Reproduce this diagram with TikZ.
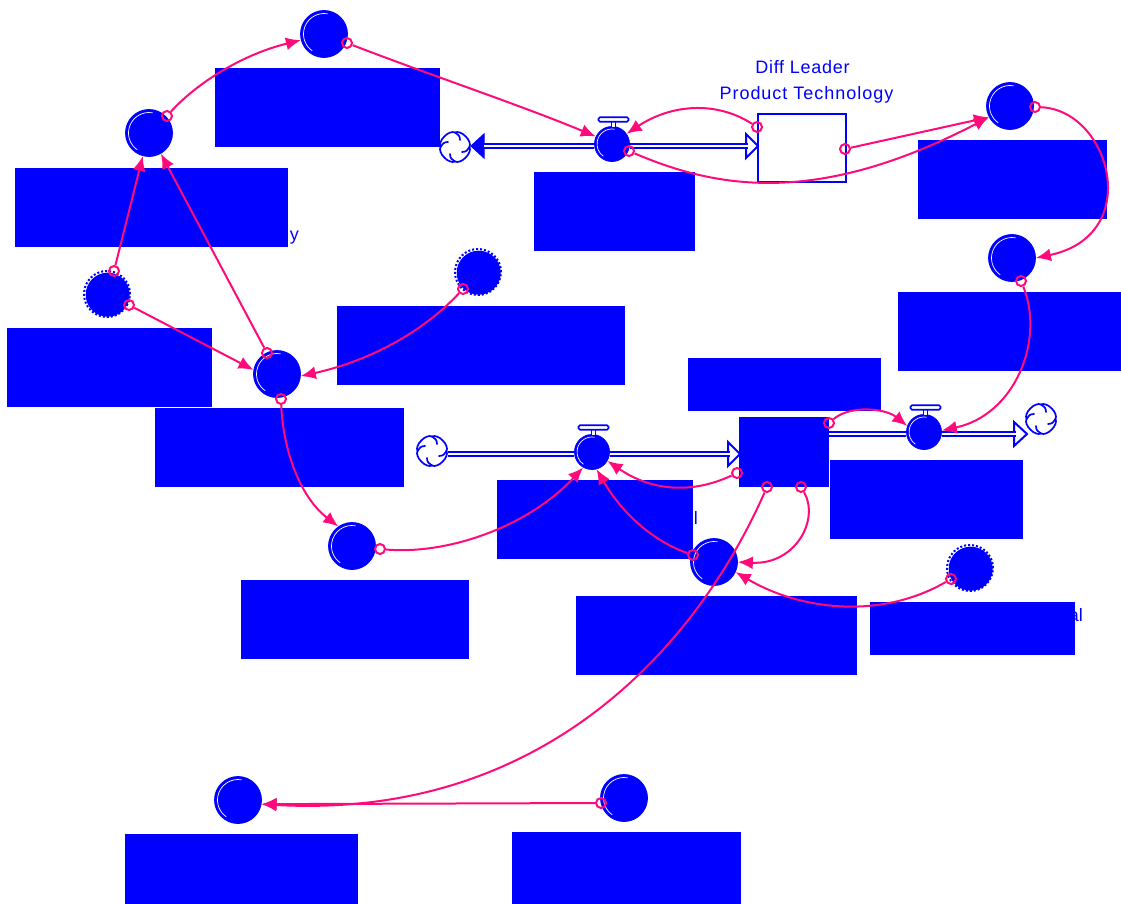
\documentclass[tikz,border=0pt]{standalone}
\usepackage{fontspec}
\setmainfont{Liberation Sans}
\usetikzlibrary{arrows.meta}
\definecolor{sdblue}{RGB}{0,0,255}
\definecolor{sdpink}{RGB}{255,10,120}
\tikzset{
  x=1pt,y=-1pt,
  hilite/.style={path picture={\draw[white,line width=.7pt] (path picture bounding box.center) ++(80:#1) arc[start angle=80,end angle=235,radius=#1];}},
  aux/.style={circle,fill=sdblue,draw=sdblue,line width=.8pt,inner sep=0pt,minimum size=47pt,hilite=20.5pt},
  ghost/.style={circle,fill=sdblue,inner sep=0pt,minimum size=44pt},
  ring/.style={circle,draw=sdblue,dotted,line width=2pt,inner sep=0pt,minimum size=46pt},
  valve/.style={circle,fill=sdblue,draw=sdblue,line width=.8pt,inner sep=0pt,minimum size=35pt,hilite=15pt},
  handle/.style={draw=sdblue,fill=white,line width=1.7pt,rounded corners=1.5pt,inner sep=0pt,minimum width=30pt,minimum height=4.5pt},
  stem/.style={draw=sdblue,fill=white,line width=1.5pt,inner sep=0pt,minimum width=4pt,minimum height=6pt},
  mask/.style={fill=sdblue,draw=none},
  stockopen/.style={draw=sdblue,fill=white,line width=2pt,inner sep=0pt,minimum width=88pt,minimum height=68pt},
  stockfull/.style={draw=sdblue,fill=sdblue,line width=1pt,inner sep=0pt,minimum width=89pt,minimum height=69pt},
  pipe/.style={draw=sdblue,line width=2pt,double=white,double distance=2.2pt},
  hollow/.style={draw=sdblue,fill=white,line width=2pt,line join=miter},
  solidtip/.style={draw=sdblue,fill=sdblue,line width=1pt},
  tail/.style={circle,draw=sdpink,line width=2pt,inner sep=0pt,minimum size=10pt},
  link/.style={draw=sdpink,line width=2pt,-{Latex[length=15pt,width=13pt]}},
  lab/.style={text=sdblue,font=\fontsize{18}{21}\selectfont,inner sep=0pt},
  cloudline/.style={draw=sdblue,line width=1.7pt,line cap=round},
  cloud/.pic={
    \foreach \r in {0,90,180,270}{
      \draw[cloudline,rotate=\r] (0,-14.5) .. controls (6,-17.5) and (17.5,-6) .. (14.5,0);
      \draw[cloudline,rotate=\r] (0,-14.5) .. controls (3,-13) and (5,-11) .. (5,-7);
    }
  }
}
\begin{document}
\begin{tikzpicture}
\useasboundingbox (0,0) rectangle (1121,904);

% text partly covered by the rectangles
\node[lab,anchor=base east] (ty) at (299,240) {y};
\node[lab,anchor=base east] (tl) at (698,524) {l};
\node[lab,anchor=base east] (tal) at (1083,621) {al};
\node[lab,anchor=base] (t1) at (802.5,74) {\addfontfeature{LetterSpace=4}Diff Leader};
\node[lab,anchor=base] (t2) at (806.5,100) {\addfontfeature{LetterSpace=5.5}Product Technology};

% stocks
\node[stockopen] (S1) at (802,148) {};
\node[stockfull] (S2) at (784,452) {};

% masks
\foreach \a/\b/\c/\d in {215/68/440/147,15/168/288/247,7/328/212/407,337/306/625/385,155/408/404/487,534/172/695/251,918/140/1107/219,898/292/1121/371,688/358/881/411,830/460/1023/539,497/480/693/559,241/580/469/659,576/596/857/675,870/602/1075/655,125/834/358/904,512/832/741/904}
  \fill[mask] (\a,\b) rectangle (\c,\d);

% clouds
\pic at (455,147) {cloud};
\pic at (432,451) {cloud};
\pic at (1041,419) {cloud};
\coordinate (C1) at (471,146);
\coordinate (C2) at (448,454);
\coordinate (E1) at (746,146);
\coordinate (E2) at (728,454);
\coordinate (E3) at (1014,434);

% valves
\node[valve] (V1) at (612,144) {};
\node[valve] (V2) at (592,452) {};
\node[valve] (V3) at (924,432) {};
\node[stem] (st1) at (613.5,124.5) {};
\node[stem] (st2) at (593.5,432.5) {};
\node[stem] (st3) at (925.5,412.5) {};
\node[handle] (h1) at (613.5,119.5) {};
\node[handle] (h2) at (593.5,427.5) {};
\node[handle] (h3) at (925.5,407.5) {};

% flow heads, then pipes running into them
\draw[hollow] (E1) ++(0,-12) -- ++(12,12) -- ++(-12,12) -- cycle;
\draw[hollow] (E2) ++(0,-12) -- ++(12,12) -- ++(-12,12) -- cycle;
\draw[hollow] (E3) ++(0,-12) -- ++(13,12) -- ++(-13,12) -- cycle;
\draw[solidtip] (C1) -- ++(13,-12) -- ++(0,24) -- cycle;
\draw[pipe] (V1.west |- C1) -- (484,146);
\draw[pipe] (V1.east |- E1) -- ([xshift=1.5pt]E1);
\draw[pipe] (C2) -- (V2.west |- C2);
\draw[pipe] (V2.east |- E2) -- ([xshift=1.5pt]E2);
\draw[pipe] (S2.east |- E3) -- (V3.west |- E3);
\draw[pipe] (V3.east |- E3) -- ([xshift=1.5pt]E3);

% auxiliaries
\node[aux] (A) at (324,34) {};
\node[aux] (B) at (149,133) {};
\node[aux] (D) at (277,374) {};
\node[aux] (G) at (1010,106) {};
\node[aux] (H) at (1012,258) {};
\node[aux] (K) at (352,546) {};
\node[aux] (L) at (714,562) {};
\node[aux] (N) at (238,800) {};
\node[aux] (O) at (624,798) {};
\node[ring] (Cr) at (107,294) {}; \node[ghost] (C) at (107.7,294.7) {};
\node[ring] (Er) at (478,272) {}; \node[ghost] (E) at (478.7,272.7) {};
\node[ring] (Mr) at (970,568) {}; \node[ghost] (M) at (970.7,568.7) {};

% connector tails
\node[tail] (a1) at (167,116) {};
\node[tail] (a2) at (347,43) {};
\node[tail] (a3) at (114,271) {};
\node[tail] (a4) at (267,353) {};
\node[tail] (a5) at (129,305) {};
\node[tail] (a6) at (463,289) {};
\node[tail] (a7) at (281,399) {};
\node[tail] (a8) at (380,549) {};
\node[tail] (a9) at (757,127) {};
\node[tail] (a10) at (629,151) {};
\node[tail] (a11) at (845,149) {};
\node[tail] (a12) at (1035,107) {};
\node[tail] (a13) at (1021,281) {};
\node[tail] (a14) at (829,423) {};
\node[tail] (a15) at (737,473) {};
\node[tail] (a16) at (693,555) {};
\node[tail] (a17) at (801,487) {};
\node[tail] (a18) at (951,579) {};
\node[tail] (a19) at (767,487) {};
\node[tail] (a20) at (601,803) {};

% connectors
\draw[link] (a1) .. controls (195,85) and (240,55) .. (A.195);
\draw[link] (a2) .. controls (430,75) and (520,105) .. (V1.155);
\draw[link] (a3) -- (B.255);
\draw[link] (a4) -- (B.300);
\draw[link] (a5) -- (D.170);
\draw[link] (a6) .. controls (420,335) and (365,362) .. (D.355);
\draw[link] (a7) .. controls (283,450) and (300,497) .. (K.125);
\draw[link] (a8) .. controls (450,555) and (530,525) .. (V2.240);
\draw[link] (a9) .. controls (715,100) and (670,105) .. (V1.35);
\draw[link] (a10) .. controls (720,190) and (820,205) .. (G.208);
\draw[link] (a11) -- (G.208);
\draw[link] (a12) .. controls (1110,110) and (1145,235) .. (H.0);
\draw[link] (a13) .. controls (1045,340) and (1015,415) .. (V3.5);
\draw[link] (a14) .. controls (850,405) and (885,408) .. (V3.160);
\draw[link] (a15) .. controls (690,495) and (650,490) .. (V2.330);
\draw[link] (a16) .. controls (650,540) and (620,510) .. (V2.285);
\draw[link] (a17) .. controls (820,520) and (795,565) .. (L.0);
\draw[link] (a18) .. controls (880,620) and (800,610) .. (L.335);
\draw[link] (a19) .. controls (695,650) and (540,820) .. (N.350);
\draw[link] (a20) -- (N.350);
\end{tikzpicture}
\end{document}
